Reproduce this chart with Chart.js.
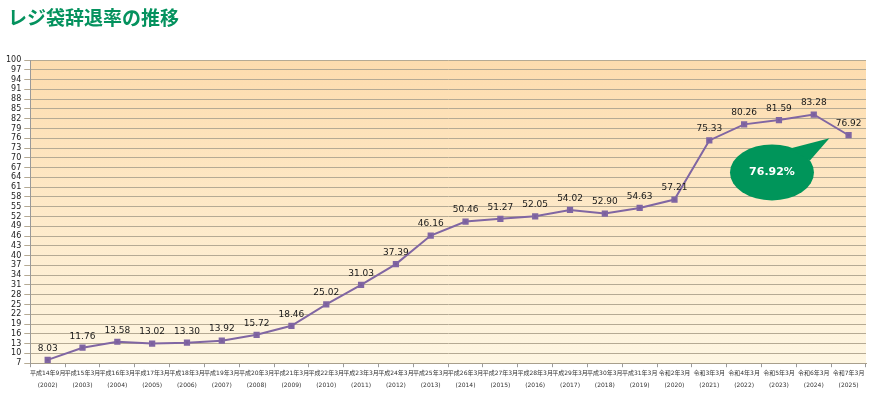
<!DOCTYPE html>
<html lang="ja">
<head>
    <meta charset="utf-8">
    <title>レジ袋辞退率の推移</title>
    <script src="https://cdn.jsdelivr.net/npm/chart.js@4.4.0/dist/chart.umd.min.js"></script>
    <style>
        html, body { margin: 0; padding: 0; background: #fff; }
        .kontainer { position: relative; width: 892px; height: 398px; }
        .rubrik {
            position: absolute; left: 8px; top: 5px; margin: 0;
            font: bold 19px "Noto Sans CJK JP", sans-serif; color: #04925e;
            line-height: 24px;
        }
    </style>
</head>
<body>
    <div class="kontainer">
        <h1 class="rubrik">レジ袋辞退率の推移</h1>
        <canvas id="myChart" width="892" height="398"></canvas>
    </div>
    <script>
        const nengo = ['平成14年9月', '平成15年3月', '平成16年3月', '平成17年3月', '平成18年3月', '平成19年3月',
            '平成20年3月', '平成21年3月', '平成22年3月', '平成23年3月', '平成24年3月', '平成25年3月',
            '平成26年3月', '平成27年3月', '平成28年3月', '平成29年3月', '平成30年3月', '平成31年3月',
            '令和2年3月', '令和3年3月', '令和4年3月', '令和5年3月', '令和6年3月', '令和7年3月'];
        const seireki = ['(2002)', '(2003)', '(2004)', '(2005)', '(2006)', '(2007)', '(2008)', '(2009)',
            '(2010)', '(2011)', '(2012)', '(2013)', '(2014)', '(2015)', '(2016)', '(2017)', '(2018)',
            '(2019)', '(2020)', '(2021)', '(2022)', '(2023)', '(2024)', '(2025)'];
        const jitairitsu = [8.03, 11.76, 13.58, 13.02, 13.30, 13.92, 15.72, 18.46, 25.02, 31.03, 37.39, 46.16,
            50.46, 51.27, 52.05, 54.02, 52.90, 54.63, 57.21, 75.33, 80.26, 81.59, 83.28, 76.92];
        const yMin = 7, yMax = 100, ySteg = 3;
        const bubbla = '76.92%';

        const etiketter = nengo.map((n, i) => [n, seireki[i]]);
        const fontFam = '"DejaVu Sans", "Noto Sans CJK JP", sans-serif';

        // bakgrund + värden + pratbubbla
        const ritaExtra = {
            id: 'ritaExtra',
            beforeDraw(chart) {
                const { ctx, chartArea: a } = chart;
                const g = ctx.createLinearGradient(0, a.top, 0, a.bottom);
                g.addColorStop(0, '#fddcae');
                g.addColorStop(1, '#fef6e2');
                ctx.save();
                ctx.fillStyle = g;
                ctx.fillRect(a.left, a.top, a.right - a.left, a.bottom - a.top);
                ctx.restore();
            },
            afterDatasetsDraw(chart) {
                const { ctx } = chart;
                const meta = chart.getDatasetMeta(0);
                ctx.save();
                ctx.font = '9px ' + fontFam;
                ctx.fillStyle = '#1a1a1a';
                ctx.textAlign = 'center';
                ctx.textBaseline = 'bottom';
                meta.data.forEach((p, i) => {
                    ctx.fillText(jitairitsu[i].toFixed(2), p.x, p.y - 7);
                });

                // pratbubbla
                const xs = chart.scales.x, ys = chart.scales.y;
                const cx = xs.getPixelForValue(20.8), cy = ys.getPixelForValue(65.5);
                const rx = 42, ry = 28;
                ctx.fillStyle = '#00955a';
                ctx.beginPath();
                ctx.ellipse(cx, cy, rx, ry, 0, 0, Math.PI * 2);
                ctx.fill();
                ctx.beginPath();
                ctx.moveTo(cx + 18, cy - 24);
                ctx.lineTo(xs.getPixelForValue(22.45), ys.getPixelForValue(76));
                ctx.lineTo(cx + 38, cy - 12);
                ctx.closePath();
                ctx.fill();
                ctx.fillStyle = '#ffffff';
                ctx.font = 'bold 11px ' + fontFam;
                ctx.textBaseline = 'middle';
                ctx.fillText(bubbla, cx, cy);
                ctx.restore();
            }
        };

        const ctx = document.getElementById('myChart').getContext('2d');
        const myChart = new Chart(ctx, {
            type: 'line',
            data: {
                labels: etiketter,
                datasets: [{
                    data: jitairitsu,
                    borderColor: '#8066a3',
                    backgroundColor: '#7a5e9c',
                    borderWidth: 2,
                    pointStyle: 'rect',
                    pointRadius: 3,
                    pointHoverRadius: 3,
                    tension: 0
                }]
            },
            options: {
                responsive: false,
                animation: false,
                layout: { padding: { left: 3, right: 26, top: 60, bottom: 6 } },
                plugins: {
                    legend: { display: false },
                    tooltip: { enabled: false },
                    title: { display: false }
                },
                scales: {
                    x: {
                        offset: true,
                        grid: { offset: true, drawOnChartArea: false, tickLength: 4, color: '#9a9a9a' },
                        border: { color: '#a89f8c' },
                        ticks: {
                            autoSkip: false,
                            maxRotation: 0,
                            color: '#333',
                            padding: 1,
                            font: { family: fontFam, size: 6, lineHeight: 1.9 }
                        }
                    },
                    y: {
                        min: yMin,
                        max: yMax,
                        ticks: {
                            stepSize: ySteg,
                            autoSkip: false,
                            color: '#222',
                            padding: 3,
                            font: { family: fontFam, size: 8 }
                        },
                        grid: { color: '#b5aa94', tickLength: 6 },
                        border: { color: '#9a9a9a' }
                    }
                }
            },
            plugins: [ritaExtra]
        });
    </script>
</body>
</html>
